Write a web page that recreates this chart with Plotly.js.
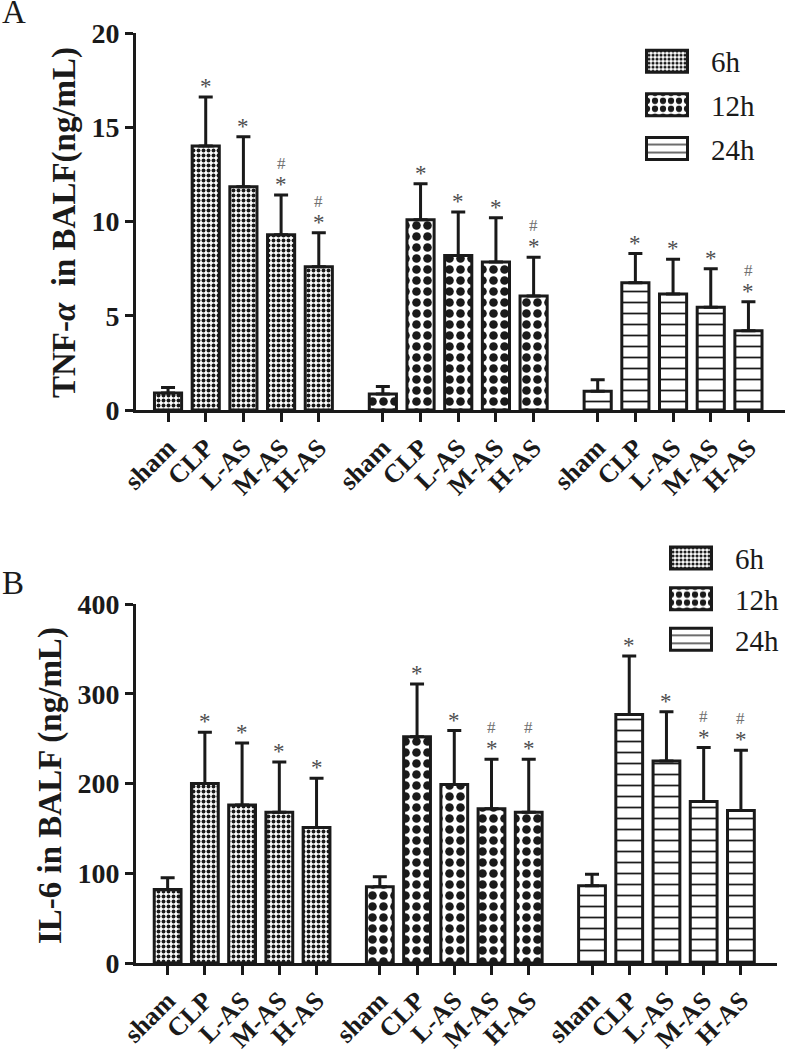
<!DOCTYPE html>
<html>
<head>
<meta charset="utf-8">
<script src="https://cdn.plot.ly/plotly-3.0.1.min.js"></script>
<style>html,body{margin:0;padding:0;background:#fff;}#chart{width:787px;height:1061px;}</style>
</head>
<body>
<div id="chart"></div>
<script>
// ---- data ----
const groups = ["sham", "CLP", "L-AS", "M-AS", "H-AS"];
const timepoints = ["6h", "12h", "24h"];

// Panel A: TNF-α in BALF (ng/mL)
const tnf6  = [0.9, 14.0, 11.85, 9.3, 7.6];
const tnf6Err = [0.3, 2.6, 2.65, 2.1, 1.8];
const tnf12 = [0.85, 10.1, 8.2, 7.85, 6.05];
const tnf12Err = [0.4, 1.9, 2.3, 2.35, 2.05];
const tnf24 = [1.0, 6.75, 6.15, 5.45, 4.2];
const tnf24Err = [0.6, 1.55, 1.85, 2.05, 1.55];
const tnfSig6  = ["", "*", "*", "*#", "*#"];
const tnfSig12 = ["", "*", "*", "*", "*#"];
const tnfSig24 = ["", "*", "*", "*", "*#"];

// Panel B: IL-6 in BALF (ng/mL)
const il6_6  = [82, 200, 176, 168, 151];
const il6_6Err = [13, 57, 69, 56, 55];
const il6_12 = [85, 252, 199, 172, 168];
const il6_12Err = [11, 59, 60, 55, 59];
const il6_24 = [86, 277, 225, 180, 170];
const il6_24Err = [13, 65, 55, 60, 67];
const il6Sig6  = ["", "*", "*", "*", "*"];
const il6Sig12 = ["", "*", "*", "*#", "*#"];
const il6Sig24 = ["", "*", "*", "*#", "*#"];

const titleA = "TNF-<i>α</i>&nbsp; in BALF(ng/mL)";
const titleB = "IL-6 in BALF (ng/mL)";

// ---- styling ----
const INK = "#1a1a1a";
const SERIF = "Liberation Serif";
const patterns = [
  {shape: ".", size: 5, solidity: 0.48, fgcolor: INK, bgcolor: "#ffffff"},
  {shape: ".", size: 11, solidity: 0.48, fgcolor: INK, bgcolor: "#ffffff"},
  {shape: "-", size: 11, solidity: 0.16, fgcolor: INK, bgcolor: "#ffffff"}
];
const GAP = 0.7;
function xpos(g, i) { return g * (groups.length + GAP) + i; }

const tickvals = [], ticktext = [];
timepoints.forEach((t, g) => groups.forEach((c, i) => { tickvals.push(xpos(g, i)); ticktext.push(c); }));

const panels = [
  {vals: [tnf6, tnf12, tnf24], errs: [tnf6Err, tnf12Err, tnf24Err], sig: [tnfSig6, tnfSig12, tnfSig24], xa: "x", ya: "y", legend: "legend"},
  {vals: [il6_6, il6_12, il6_24], errs: [il6_6Err, il6_12Err, il6_24Err], sig: [il6Sig6, il6Sig12, il6Sig24], xa: "x2", ya: "y2", legend: "legend2"}
];

const traces = [];
const annotations = [];
panels.forEach((p, pi) => {
  timepoints.forEach((t, g) => {
    traces.push({
      type: "bar",
      name: t,
      x: groups.map((c, i) => xpos(g, i)),
      y: p.vals[g],
      width: 0.72,
      xaxis: p.xa, yaxis: p.ya,
      legend: p.legend,
      legendgroup: t + "_" + pi,
      marker: {color: "#ffffff", line: {color: INK, width: 3}, pattern: patterns[g]},
      error_y: {type: "data", symmetric: false, array: p.errs[g], arrayminus: p.errs[g].map(() => 0),
                color: INK, thickness: 3, width: 7},
      hoverinfo: "x+y"
    });
    p.sig[g].forEach((s, i) => {
      const top = p.vals[g][i] + p.errs[g][i];
      if (s.includes("*")) {
        annotations.push({xref: p.xa, yref: p.ya, x: xpos(g, i), y: top, text: "*", showarrow: false,
          yanchor: "bottom", yshift: -4, font: {family: SERIF, size: 23, color: "#4d4d4d"}});
      }
      if (s.includes("#")) {
        annotations.push({xref: p.xa, yref: p.ya, x: xpos(g, i), y: top, text: "#", showarrow: false,
          yanchor: "bottom", yshift: 20, font: {family: SERIF, size: 17, color: "#707070"}});
      }
    });
  });
});

// panel letters
annotations.push({xref: "paper", yref: "paper", x: -0.2096, y: 1.0227, xanchor: "left", yanchor: "middle",
  text: "A", showarrow: false, font: {family: SERIF, size: 33, color: INK}});
annotations.push({xref: "paper", yref: "paper", x: -0.2096, y: 0.4085, xanchor: "left", yanchor: "middle",
  text: "B", showarrow: false, font: {family: SERIF, size: 33, color: INK}});
// y-axis titles (placed as rotated text to match the original spacing)
annotations.push({xref: "paper", yref: "paper", x: -0.1094, y: 0.7968, xanchor: "center", yanchor: "middle",
  textangle: -90, text: titleA, showarrow: false, font: {family: SERIF, size: 33, weight: "bold", color: INK}});
annotations.push({xref: "paper", yref: "paper", x: -0.1325, y: 0.1903, xanchor: "center", yanchor: "middle",
  textangle: -90, text: titleB, showarrow: false, font: {family: SERIF, size: 33, weight: "bold", color: INK}});

const xAxisBase = {
  tickmode: "array", tickvals: tickvals, ticktext: ticktext, tickangle: -45,
  range: [-0.85, 16.37], showline: true, linewidth: 3, linecolor: INK,
  ticks: "outside", ticklen: 9, tickwidth: 3, tickcolor: INK,
  showgrid: false, zeroline: false,
  tickfont: {family: SERIF, size: 26, weight: "bold", color: INK}
};
const yAxisBase = {
  showline: true, linewidth: 3, linecolor: INK,
  ticks: "outside", ticklen: 8, tickwidth: 3, tickcolor: INK,
  showgrid: false, zeroline: false,
  tickfont: {family: SERIF, size: 28, weight: "bold", color: INK}
};

const layout = {
  width: 787, height: 1061,
  margin: {l: 136, r: 2, t: 33, b: 98},
  paper_bgcolor: "#ffffff", plot_bgcolor: "#ffffff",
  showlegend: true,
  bargap: 0,
  xaxis: Object.assign({}, xAxisBase, {domain: [0, 1], anchor: "y"}),
  yaxis: Object.assign({}, yAxisBase, {domain: [0.5946, 1], anchor: "x", range: [0, 20], tickvals: [0, 5, 10, 15, 20]}),
  xaxis2: Object.assign({}, xAxisBase, {domain: [0, 0.9877], anchor: "y2"}),
  yaxis2: Object.assign({}, yAxisBase, {domain: [0, 0.386], anchor: "x2", range: [0, 400], tickvals: [0, 100, 200, 300, 400]}),
  legend: {x: 0.7504, y: 0.997, xanchor: "left", yanchor: "top", traceorder: "grouped", tracegroupgap: 3,
    font: {family: SERIF, size: 29, color: INK}, bgcolor: "rgba(0,0,0,0)", itemwidth: 78},
  legend2: {x: 0.7874, y: 0.4628, xanchor: "left", yanchor: "top", traceorder: "grouped", tracegroupgap: 0,
    font: {family: SERIF, size: 29, color: INK}, bgcolor: "rgba(0,0,0,0)", itemwidth: 78},
  annotations: annotations
};

Plotly.newPlot("chart", traces, layout, {displayModeBar: false, staticPlot: true}).then(function (gd) {
  // enlarge the legend swatches to the wide boxes of the original figure
  gd.querySelectorAll(".legendpoints path").forEach(function (p) {
    p.setAttribute("d", "M20.5,11H-20.5V-11H20.5Z");
  });
});
</script>
</body>
</html>
